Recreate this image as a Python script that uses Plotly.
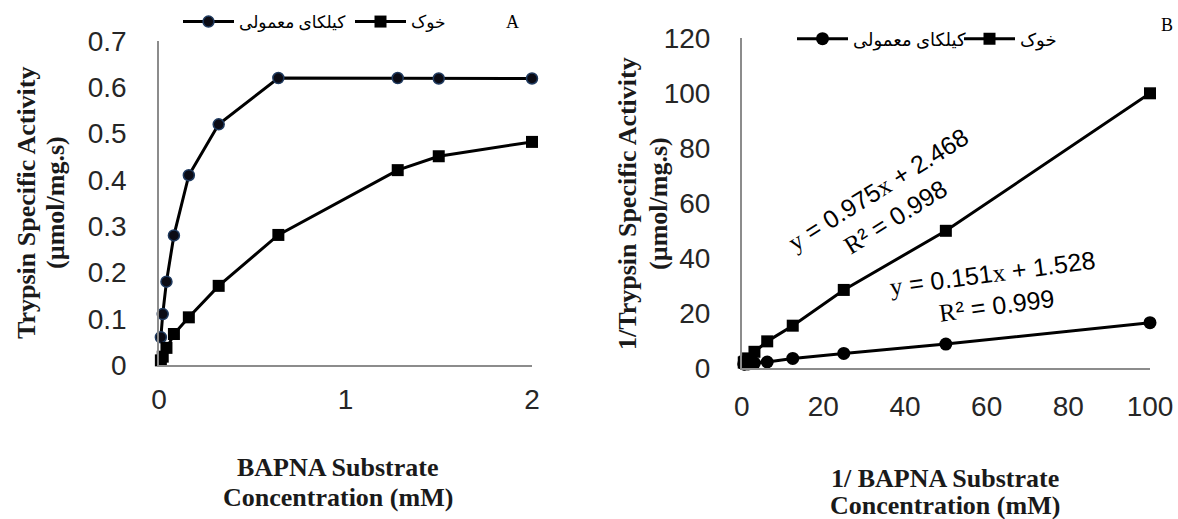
import plotly.graph_objects as go

W, H = 1178, 519

# ---- Data (panel A: Michaelis-Menten) ----
conc_mM = [0.01, 0.02, 0.04, 0.08, 0.16, 0.32, 0.64, 1.28, 1.5, 2.0]
kilka_activity = [0.06, 0.11, 0.18, 0.28, 0.41, 0.52, 0.62, 0.62, 0.619, 0.619]
pig_activity = [0.01, 0.018, 0.037, 0.067, 0.103, 0.171, 0.281, 0.421, 0.451, 0.482]

# ---- Data (panel B: Lineweaver-Burk) ----
inv_conc = [100, 50, 25, 12.5, 6.25, 3.125, 1.5625, 0.78, 0.67, 0.5]
kilka_inv_activity = [16.6, 8.8, 5.4, 3.6, 2.3, 1.9, 1.6, 1.6, 1.6, 1.6]
pig_inv_activity = [100, 50, 28.5, 15.5, 9.8, 6.0, 3.6, 2.4, 2.2, 2.1]

series_names = ["کیلکای معمولی", "خوک"]

xtick_vals_A = [0, 1, 2]
ytick_vals_A = [0, 0.1, 0.2, 0.3, 0.4, 0.5, 0.6, 0.7]
ytick_text_A = ["0", "0.1", "0.2", "0.3", "0.4", "0.5", "0.6", "0.7"]
xtick_vals_B = [0, 20, 40, 60, 80, 100]
ytick_vals_B = [0, 20, 40, 60, 80, 100, 120]

SER = "<span style=\"font-family:'Liberation Serif'\">%s</span>"
eq_pig = (SER % "y") + " = 0.975" + (SER % "x") + " + 2.468<br>" + (SER % "R") + "² = 0.998"
eq_kilka = (SER % "y") + " = 0.151" + (SER % "x") + " + 1.528<br>" + (SER % "R") + "² = 0.999"


def px_x(x):
    """pixel -> paper fraction"""
    return x / W


def px_y(y):
    return 1 - y / H


SANS = "Liberation Sans, Arial, sans-serif"
SERIF = "Liberation Serif, Times New Roman, serif"
LEG_FONT = "Times New Roman, Liberation Serif, DejaVu Sans, serif"

fig = go.Figure()

fig.add_trace(go.Scatter(
    x=conc_mM, y=kilka_activity, name=series_names[0], mode="lines+markers",
    line=dict(color="black", width=3),
    marker=dict(symbol="circle", size=11, color="#0b0b14",
                line=dict(color="#1f3a5f", width=1.5)),
    xaxis="x", yaxis="y", legend="legend", cliponaxis=False))
fig.add_trace(go.Scatter(
    x=conc_mM, y=pig_activity, name=series_names[1], mode="lines+markers",
    line=dict(color="black", width=3),
    marker=dict(symbol="square", size=12, color="black"),
    xaxis="x", yaxis="y", legend="legend", cliponaxis=False))

fig.add_trace(go.Scatter(
    x=inv_conc, y=kilka_inv_activity, name=series_names[0], mode="lines+markers",
    line=dict(color="black", width=3),
    marker=dict(symbol="circle", size=13, color="black"),
    xaxis="x2", yaxis="y2", legend="legend2", cliponaxis=False))
fig.add_trace(go.Scatter(
    x=inv_conc, y=pig_inv_activity, name=series_names[1], mode="lines+markers",
    line=dict(color="black", width=3),
    marker=dict(symbol="square", size=12, color="black"),
    xaxis="x2", yaxis="y2", legend="legend2", cliponaxis=False))

axis_common = dict(showline=True, linecolor="#8c8c8c", linewidth=1.5,
                   showgrid=False, zeroline=False, ticks="", automargin=False,
                   tickfont=dict(family=SANS, size=28, color="#262626"))

fig.update_layout(
    width=W, height=H, margin=dict(l=0, r=0, t=0, b=0),
    plot_bgcolor="white", paper_bgcolor="white",
    xaxis=dict(domain=[px_x(159), px_x(532)], range=[0, 2], anchor="y",
               tickvals=xtick_vals_A, ticklabelstandoff=9, **axis_common),
    yaxis=dict(domain=[px_y(365), px_y(41)], range=[0, 0.7], anchor="x",
               tickvals=ytick_vals_A, ticktext=ytick_text_A,
               ticklabelstandoff=25, **axis_common),
    xaxis2=dict(domain=[px_x(741.7), px_x(1150)], range=[0, 100], anchor="y2",
                tickvals=xtick_vals_B, ticklabelstandoff=12, **axis_common),
    yaxis2=dict(domain=[px_y(368.3), px_y(38.3)], range=[0, 120], anchor="x2",
                tickvals=ytick_vals_B, ticklabelstandoff=24, **axis_common),
    legend=dict(orientation="h", x=px_x(178), xanchor="left",
                y=px_y(22), yanchor="middle", bgcolor="rgba(0,0,0,0)",
                itemwidth=51, entrywidth=106,
                font=dict(family=LEG_FONT, size=17, color="black"),
                traceorder="normal"),
    legend2=dict(orientation="h", x=px_x(792), xanchor="left",
                 y=px_y(39), yanchor="middle", bgcolor="rgba(0,0,0,0)",
                 itemwidth=51, entrywidth=101,
                 font=dict(family=LEG_FONT, size=18, color="black"),
                 traceorder="normal"),
)

ann = []
# axis titles, one annotation per line
title_lines = [
    ("Trypsin Specific Activity", 26, 203, -90),
    ("(µmol/mg.s)", 55, 203, -90),
    ("1/Trypsin Specific Activity", 627, 204, -90),
    ("(µmol/mg.s)", 658, 204, -90),
    ("BAPNA Substrate", 338, 467, 0),
    ("Concentration (mM)", 338, 497, 0),
    ("1/ BAPNA Substrate", 945, 478, 0),
    ("Concentration (mM)", 945, 505, 0),
]
for txt, xx, yy, ang in title_lines:
    ann.append(dict(text="<b>%s</b>" % txt, x=px_x(xx), y=px_y(yy), textangle=ang,
                    font=dict(family=SERIF, size=26, color="#1a1a1a")))

# panel labels
for lbl, xx, yy in [("A", 512, 22), ("B", 1167, 25)]:
    ann.append(dict(text=lbl, x=px_x(xx), y=px_y(yy),
                    font=dict(family=SERIF, size=18, color="black")))

# regression equations
ann.append(dict(text=eq_pig, x=px_x(886), y=px_y(203), textangle=-32,
                font=dict(family=SANS, size=25, color="black")))
ann.append(dict(text=eq_kilka, x=px_x(994), y=px_y(289), textangle=-7.5,
                font=dict(family=SANS, size=25, color="black")))

for a in ann:
    a.update(xref="paper", yref="paper", showarrow=False,
             xanchor="center", yanchor="middle")

fig.update_layout(annotations=ann)

# remove the default page margin so the 1178x519 figure fills the window exactly
fig.write_html("out.html",
               config={"displayModeBar": False},
               post_script="document.body.style.margin='0';"
                           "document.body.style.overflow='hidden';")
